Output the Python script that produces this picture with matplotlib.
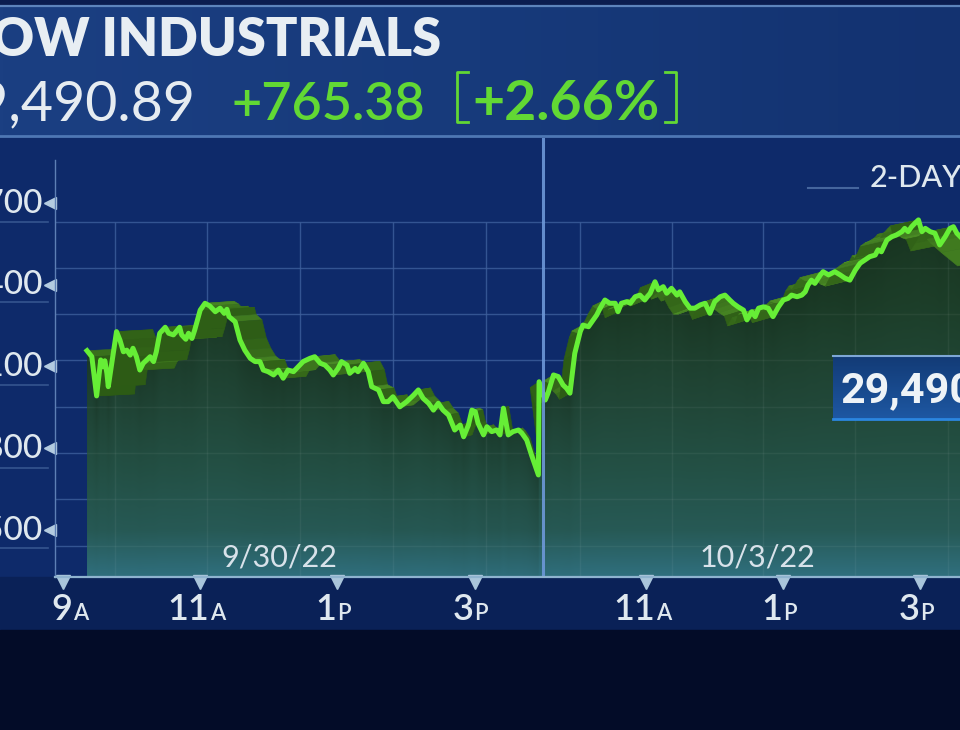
import numpy as np
import matplotlib
matplotlib.use("Agg")
import matplotlib.pyplot as plt
from matplotlib.collections import PolyCollection
from matplotlib.lines import Line2D
from matplotlib.patches import Rectangle
from matplotlib.transforms import blended_transform_factory as blend
from matplotlib.colors import to_rgb

W, H = 960, 730
plt.rcParams["font.family"] = ["Lato", "DejaVu Sans"]

# ---- data ----
INDEX = "DOW INDUSTRIALS"
LAST, CHG, PCT = "29,490.89", "+765.38", "+2.66%"
DAYS = ["9/30/22", "10/3/22"]

# 9/30/22 session: clock hour, index level
d1_t = [9.35, 9.42, 9.49, 9.55, 9.58, 9.61, 9.64, 9.66, 9.78, 9.83,
        9.88, 9.93, 9.98, 10.02, 10.07, 10.12, 10.17, 10.27, 10.32, 10.36,
        10.41, 10.49, 10.54, 10.61, 10.70, 10.73, 10.79, 10.83, 10.88, 10.92,
        11.00, 11.07, 11.14, 11.22, 11.29, 11.35, 11.39, 11.42, 11.51, 11.58,
        11.65, 11.73, 11.80, 11.87, 11.92, 11.99, 12.07, 12.14, 12.21, 12.28,
        12.36, 12.50, 12.60, 12.67, 12.75, 12.82, 12.89, 12.94, 13.01, 13.06,
        13.14, 13.18, 13.26, 13.30, 13.38, 13.45, 13.50, 13.60, 13.67, 13.74,
        13.81, 13.91, 14.01, 14.11, 14.18, 14.25, 14.33, 14.40, 14.47, 14.54,
        14.62, 14.71, 14.79, 14.84, 14.91, 14.96, 15.01, 15.05, 15.13, 15.18,
        15.25, 15.32, 15.37, 15.42, 15.46, 15.49, 15.56, 15.64, 15.69, 15.76,
        15.83, 15.88, 15.93]
d1_v = [29158, 29136, 28992, 29124, 29099, 29121, 29075, 29026, 29228, 29197,
        29154, 29160, 29142, 29167, 29136, 29087, 29112, 29136, 29118, 29154,
        29222, 29244, 29222, 29216, 29244, 29216, 29200, 29222, 29203, 29234,
        29307, 29332, 29322, 29301, 29314, 29295, 29310, 29283, 29264, 29197,
        29160, 29130, 29118, 29118, 29087, 29081, 29069, 29087, 29057, 29087,
        29081, 29118, 29130, 29136, 29112, 29105, 29087, 29069, 29093, 29118,
        29105, 29075, 29093, 29081, 29112, 29081, 29026, 29014, 28971, 28971,
        28989, 28952, 28971, 28995, 29014, 28983, 28965, 28940, 28965, 28940,
        28922, 28867, 28885, 28842, 28885, 28940, 28934, 28892, 28849, 28879,
        28861, 28867, 28849, 28947, 28892, 28849, 28861, 28867, 28855, 28830,
        28775, 28739, 28702]
# 10/3/22 session
d2_t = [9.44, 9.53, 9.57, 9.65, 9.72, 9.79, 9.84, 9.89, 9.96, 10.04,
        10.08, 10.16, 10.23, 10.28, 10.33, 10.40, 10.47, 10.55, 10.59, 10.64,
        10.72, 10.77, 10.84, 10.91, 10.98, 11.06, 11.13, 11.18, 11.25, 11.30,
        11.37, 11.45, 11.49, 11.57, 11.64, 11.71, 11.79, 11.86, 11.93, 12.00,
        12.08, 12.15, 12.22, 12.27, 12.34, 12.42, 12.47, 12.54, 12.59, 12.64,
        12.71, 12.78, 12.85, 12.93, 13.00, 13.07, 13.12, 13.20, 13.27, 13.32,
        13.36, 13.41, 13.46, 13.54, 13.58, 13.66, 13.75, 13.83, 13.90, 13.97,
        14.05, 14.12, 14.19, 14.26, 14.34, 14.38, 14.43, 14.51, 14.58, 14.65,
        14.73, 14.77, 14.82, 14.87, 14.92, 14.97, 15.02, 15.07, 15.14, 15.21,
        15.28, 15.36, 15.43, 15.48, 15.53, 15.58, 15.75, 16.00]
d2_v = [29044, 28977, 29002, 29069, 29063, 29032, 29020, 29002, 29148, 29228,
        29252, 29246, 29271, 29289, 29314, 29344, 29332, 29332, 29301, 29332,
        29338, 29332, 29356, 29362, 29344, 29369, 29411, 29381, 29393, 29369,
        29387, 29362, 29374, 29338, 29314, 29314, 29326, 29332, 29295, 29338,
        29356, 29362, 29344, 29332, 29319, 29307, 29271, 29301, 29283, 29314,
        29319, 29314, 29283, 29319, 29344, 29350, 29362, 29356, 29362, 29374,
        29399, 29417, 29405, 29436, 29448, 29436, 29448, 29436, 29424, 29417,
        29454, 29479, 29491, 29503, 29509, 29528, 29521, 29564, 29576, 29583,
        29595, 29607, 29595, 29613, 29626, 29638, 29595, 29607, 29595, 29589,
        29546, 29576, 29607, 29613, 29589, 29576, 29540, 29491]

y_ticks = [29700, 29400, 29100, 28800, 28500]
x_hours = [9, 11, 13, 15]          # day-1 ticks
x_hours2 = [11, 13, 15]            # day-2 ticks
x_num = ["9", "11", "1", "3"]
x_num2 = ["11", "1", "3"]
x_ap = ["A", "A", "P", "P"]
x_ap2 = ["A", "P", "P"]

GAP = 6.5      # overnight squeezed out: day-2 clock + GAP = chart x
X = np.array(d1_t + [t + GAP for t in d2_t])
V = np.array(d1_v + d2_v, dtype=float)
day2 = np.array([False] * len(d1_t) + [True] * len(d2_t))

# ---- colours ----
BG = "#0e2a6a"
GREEN = "#66ee36"
TXT = "#dfe8ef"
TGREEN = "#62d834"

def fx(x): return x / W
def fy(y): return 1 - y / H

fig = plt.figure(figsize=(9.6, 7.3), dpi=100, facecolor=BG)

# bands
for y_top, h, c in [(0, 5, "#0b1d50"), (577, 53, "#0a2157"), (630, 100, "#030c28")]:
    fig.patches.append(Rectangle((0, fy(y_top + h)), 1, h / H, transform=fig.transFigure,
                                 color=c, zorder=-1))

# header panel with gradient
hax = fig.add_axes([0, fy(136), 1, 131 / H])
g = np.linspace(0, 1, 300)
c0, c1, c2 = np.array(to_rgb("#1b3f82")), np.array(to_rgb("#173a7b")), np.array(to_rgb("#133270"))
grad = np.where(g[:, None] < 0.5, c0 + (c1 - c0) * (g[:, None] / 0.5), c1 + (c2 - c1) * ((g[:, None] - 0.5) / 0.5))
hax.imshow(grad[None, :, :], aspect="auto", extent=[0, 1, 0, 1])
hax.axis("off")
fig.add_artist(Line2D([0, 1], [fy(6), fy(6)], transform=fig.transFigure, color="#5d84bc", lw=1.6))
fig.add_artist(Line2D([0, 1], [fy(136), fy(136)], transform=fig.transFigure, color="#4e77b4", lw=2))

fig.text(fx(441), fy(56), INDEX, ha="right", va="baseline", fontsize=37.5, fontweight="heavy", color="#e8eef3")
fig.text(fx(195), fy(120), LAST, ha="right", va="baseline", fontsize=40, color="#e6ecf1")
fig.text(fx(232), fy(120), CHG, ha="left", va="baseline", fontsize=37.5, fontweight="semibold", color=TGREEN)
fig.text(fx(472), fy(120), PCT, ha="left", va="baseline", fontsize=40, fontweight="bold", color=TGREEN)
for xb, xt in [(457, 468), (676, 665)]:
    fig.add_artist(Line2D([fx(xt), fx(xb), fx(xb), fx(xt)], [fy(72), fy(72), fy(122), fy(122)],
                          transform=fig.transFigure, color=TGREEN, lw=2))

# ---- chart axes ----
PX_H = 68.6           # pixels per hour
PX_P = 300 / 81.75    # points per pixel
x0 = 9 + (55 - 63) / PX_H
x1 = 9 + (960 - 63) / PX_H
y0 = 29700 - (577 - 203) * PX_P
y1 = 29700 + (203 - 138) * PX_P
ax = fig.add_axes([fx(55), fy(577), (960 - 55) / W, (577 - 138) / H])
ax.set_xlim(x0, x1); ax.set_ylim(y0, y1)
ax.set_facecolor(BG)
for s in ax.spines.values():
    s.set_visible(False)
ax.set_xticks([]); ax.set_yticks([])

grid_v = [29630, 29461, 29293, 29124, 28951, 28783, 28614, 28441]
grid_x = [9.76, 11.10, 12.46, 13.81, 15.17, 16.54, 17.88, 19.20, 20.55, 21.90]
for gv in grid_v:
    ax.axhline(gv, color="#294b8d", lw=1, zorder=1)
ax.vlines(grid_x, y0, 29630, color="#294b8d", lw=1, zorder=1)

# area under the line: gradient, darker just below the line
fb = ax.fill_between(X, V, y0, facecolor="none", edgecolor="none", zorder=2)
nr, nc = 439, 905
rows = np.arange(nr) + 138 + 0.5
stops_y = [138, 300, 400, 470, 530, 577]
stops_c = ["#1d3c24", "#1e412b", "#22493a", "#245247", "#275a56", "#30707f"]
base = np.stack([np.interp(rows, stops_y, [to_rgb(c)[k] for c in stops_c]) for k in range(3)], axis=1)
cols_x = x0 + (np.arange(nc) + 0.5) * (x1 - x0) / nc
line_px = 203 + (29700 - np.interp(cols_x, X, V)) / PX_P
dist = rows[:, None] - line_px[None, :]
a = np.clip(0.5 * np.exp(-np.clip(dist, 0, None) / 60.0), 0, 1)[:, :, None]
dark = np.array(to_rgb("#132a1a"))
img = base[:, None, :] * (1 - a) + dark * a
im = ax.imshow(img, aspect="auto", extent=[x0, x1, y0, y1], origin="upper", zorder=2, interpolation="bilinear")
im.set_clip_path(fb.get_paths()[0], ax.transData)

for gv in grid_v:
    ax.axhline(gv, color="#ffffff", alpha=0.05, lw=1, zorder=3)
ax.vlines(grid_x, y0, 29630, color="#ffffff", alpha=0.05, lw=1, zorder=3)

# 3-D ribbon behind the line: pushed right on day 1, left/down on day 2
xpx = 63 + (X - 9) * PX_H
shift_px = np.where(day2, -(10 + 0.05 * (xpx - 560)), 0.08 * (570 - xpx))
drop_px = np.where(day2, 6.0, -2.0)
dX = shift_px / PX_H
dV = -drop_px * PX_P
quads, cols = [], []
lite, drk = np.array(to_rgb("#4e9026")), np.array(to_rgb("#2c5a15"))
for i in range(len(X) - 1):
    quads.append([(X[i], V[i]), (X[i + 1], V[i + 1]),
                  (X[i + 1] + dX[i + 1], V[i + 1] + dV[i + 1]), (X[i] + dX[i], V[i] + dV[i])])
    dxp = (X[i + 1] - X[i]) * PX_H
    dyp = (V[i + 1] - V[i]) / PX_P
    f = abs(dxp) / (np.hypot(dxp, dyp) + 1e-9)
    cols.append(drk + (lite - drk) * f ** 2)
ax.add_collection(PolyCollection(quads, facecolors=cols, edgecolors=cols, linewidths=0.4, zorder=4))

ax.plot(X, V, color=GREEN, lw=3.6, solid_joinstyle="round", zorder=5)
ax.axvline(16.0, color="#6d98d8", lw=2.2, alpha=0.9, zorder=6)

# axis lines
fig.add_artist(Line2D([fx(55), fx(55)], [fy(160), fy(577)], transform=fig.transFigure, color="#5d7fb5", lw=1))
fig.add_artist(Line2D([fx(55), 1], [fy(577), fy(577)], transform=fig.transFigure, color="#8fb3cf", lw=1.6))

# y labels
ty = blend(fig.transFigure, ax.transData)
for v in y_ticks:
    ax.text(fx(43), v, f"{v:,}", transform=ty, ha="right", va="center", fontsize=24,
            fontweight="medium", color=TXT, clip_on=False)
ax.plot([fx(50)] * len(y_ticks), y_ticks, "<", ms=8, color="#b3cbe0", transform=ty, clip_on=False)
for yy in [222, 302, 385, 468, 548]:
    fig.add_artist(Line2D([0, fx(48)], [fy(yy), fy(yy)], transform=fig.transFigure, color="#35558f", lw=1.2))

# x labels
tx = blend(ax.transData, fig.transFigure)
xt = x_hours + [h + GAP for h in x_hours2]
ax.plot(xt, [fy(582)] * len(xt), "v", ms=10, color="#a9c5db", transform=tx, clip_on=False, zorder=8)
for h, n, ap in zip(xt, x_num + x_num2, x_ap + x_ap2):
    off = 9 if ap == "A" else -1
    ax.annotate(n, xy=(h, fy(620)), xycoords=tx, xytext=(off, 0), textcoords="offset pixels",
                ha="right", va="baseline", fontsize=26, fontweight="semibold", color=TXT,
                annotation_clip=False)
    ax.annotate(ap, xy=(h, fy(620)), xycoords=tx, xytext=(off + 1, 0), textcoords="offset pixels",
                ha="left", va="baseline", fontsize=16, fontweight="semibold", color=TXT,
                annotation_clip=False)
for lab, h in zip(DAYS, [12.16, 12.62 + GAP]):
    ax.annotate(lab, xy=(h, fy(567)), xycoords=tx, ha="center", va="baseline",
                fontsize=22, fontweight="normal", color="#d8e2ea", zorder=7)

# 2-DAY tag
fig.add_artist(Line2D([fx(808), fx(858)], [fy(188), fy(188)], transform=fig.transFigure, color="#45659d", lw=1.5))
fig.text(fx(870), fy(187), "2-DAY", ha="left", va="baseline", fontsize=22, fontweight="medium", color=TXT)

# last-price box
bax = fig.add_axes([fx(833), fy(420), (960 - 833) / W, 65 / H])
bg = np.linspace(0, 1, 50)[:, None, None] * (np.array(to_rgb("#1e58a3")) - np.array(to_rgb("#123a75"))) + np.array(to_rgb("#123a75"))
bax.imshow(bg, aspect="auto", extent=[0, 1, 0, 1], origin="upper")
bax.axis("off")
fig.add_artist(Line2D([fx(833), 1], [fy(356), fy(356)], transform=fig.transFigure, color="#7ea7d6", lw=1.5))
fig.add_artist(Line2D([fx(833), 1], [fy(419), fy(419)], transform=fig.transFigure, color="#2b86e0", lw=2))
fig.text(fx(841), fy(402), LAST, ha="left", va="baseline", fontsize=31, fontweight="bold",
         family=["Roboto", "DejaVu Sans"], color="#eef3f7")

fig.savefig("out.png", dpi=100, facecolor=BG)
